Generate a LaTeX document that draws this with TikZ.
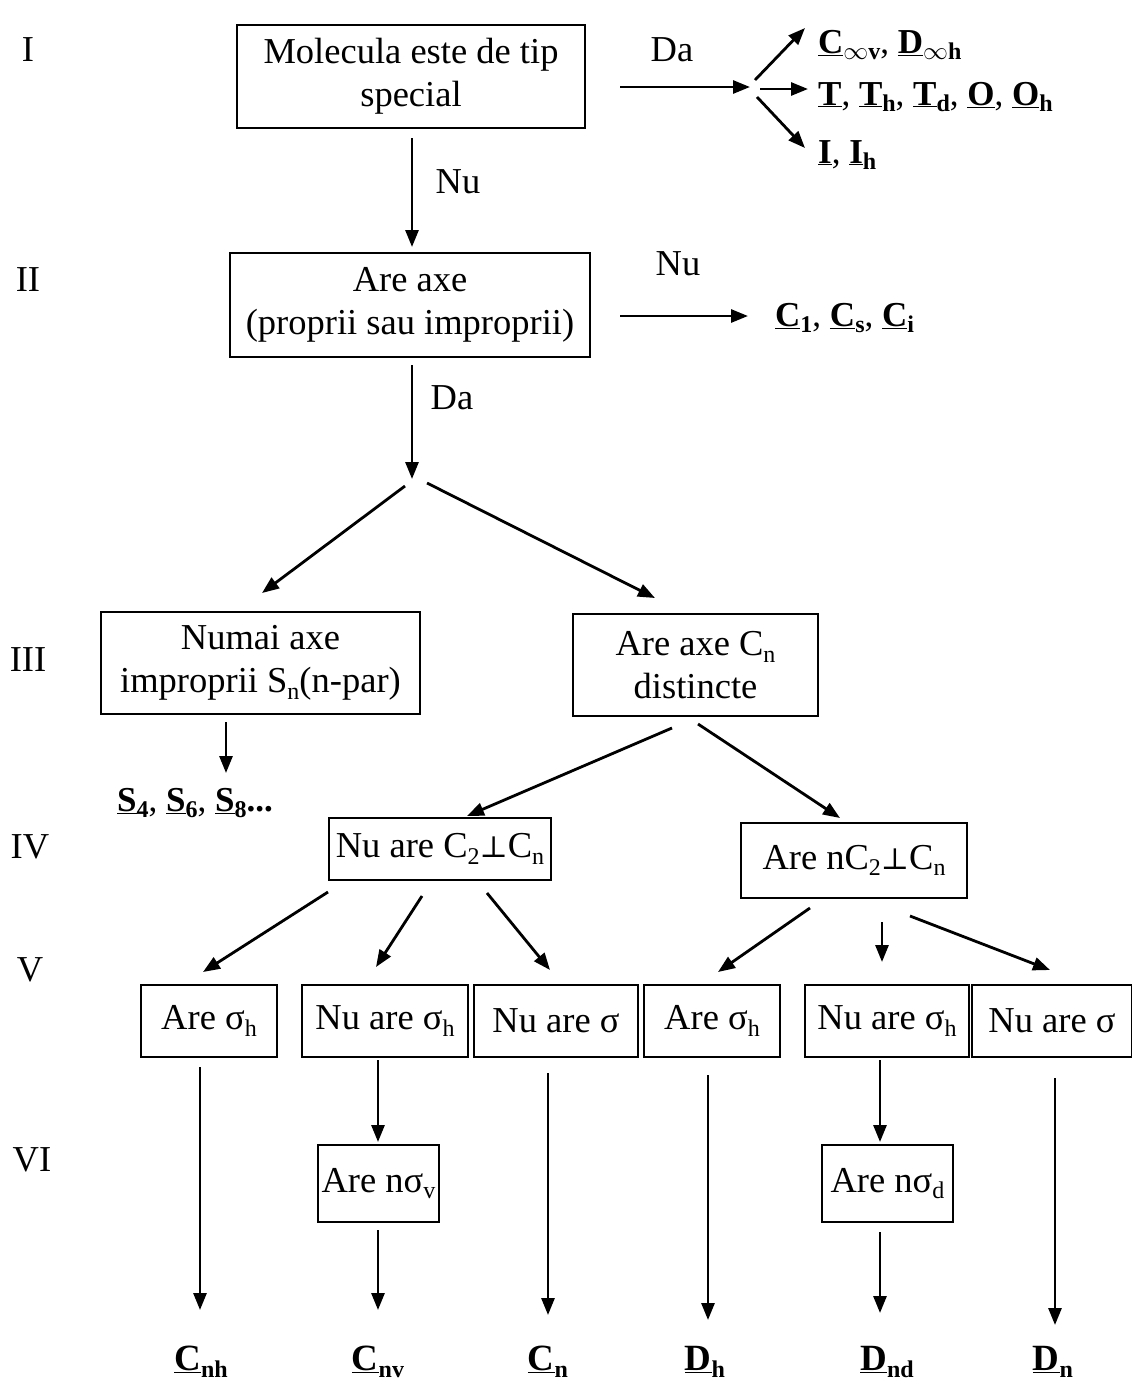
\documentclass[tikz,border=0pt]{standalone}
\usepackage{fontspec}
\setmainfont{Liberation Serif}
\newfontfamily\symfnt{DejaVu Serif}
\usetikzlibrary{arrows.meta}
\newcommand\lowsub[1]{\raisebox{-0.4ex}{\fontsize{24}{24}\selectfont #1}}
\newcommand\grp[2]{\textbf{\underline{#1}\lowsub{#2}}}
\newcommand\perpsym{{\symfnt\fontsize{30}{30}\selectfont ⊥}}
\begin{document}
\begin{tikzpicture}[x=1pt,y=-1pt,
  txt/.style={font=\fontsize{36.5}{43}\selectfont, inner sep=0pt},
  box/.style={draw, line width=2.2pt, align=center, inner sep=2pt, font=\fontsize{36.5}{43}\selectfont},
  lbl/.style={font=\fontsize{35}{40}\selectfont, inner sep=0pt, anchor=west},
  res/.style={font=\fontsize{37}{40}\selectfont, inner sep=0pt},
  arr/.style={line width=2.8pt, -{Triangle[length=17pt,width=13pt]}}]
\useasboundingbox (0,0) rectangle (1132,1382);
% roman numerals
\node[txt] (rI) at (28,50) {I};
\node[txt] (rII) at (28,280) {II};
\node[txt] (rIII) at (28,660) {III};
\node[txt] (rIV) at (30,847) {IV};
\node[txt] (rV) at (30,970) {V};
\node[txt] (rVI) at (32,1160) {VI};
% boxes
\node[box, minimum width=348pt, minimum height=103pt] (b1) at (411,76.5) {Molecula este de tip\\special};
\node[box, minimum width=360pt, minimum height=104pt] (b2) at (410,305) {Are axe\\(proprii sau improprii)};
\node[box, minimum width=319pt, minimum height=102pt] (b3l) at (260.5,663) {Numai axe\\improprii S\lowsub{n}(n-par)};
\node[box, minimum width=245pt, minimum height=102pt] (b3r) at (695.5,665) {Are axe C\lowsub{n}\\distincte};
\node[box, minimum width=222pt, minimum height=62pt] (b4l) at (440,849) {Nu are C\lowsub{2}\perpsym C\lowsub{n}};
\node[box, minimum width=226pt, minimum height=75pt] (b4r) at (854,860.5) {Are nC\lowsub{2}\perpsym C\lowsub{n}};
\node[box, minimum width=136pt, minimum height=72pt] (vA) at (209,1021) {Are σ\lowsub{h}};
\node[box, minimum width=166pt, minimum height=72pt] (vB) at (385,1021) {Nu are σ\lowsub{h}};
\node[box, minimum width=164pt, minimum height=72pt] (vC) at (556,1021) {Nu are σ};
\node[box, minimum width=136pt, minimum height=72pt] (vD) at (712,1021) {Are σ\lowsub{h}};
\node[box, minimum width=164pt, minimum height=72pt] (vE) at (887,1021) {Nu are σ\lowsub{h}};
\node[box, minimum width=160pt, minimum height=72pt] (vF) at (1052,1021) {Nu are σ};
\node[box, minimum width=121pt, minimum height=77pt] (wB) at (378.5,1183.5) {Are nσ\lowsub{v}};
\node[box, minimum width=131pt, minimum height=77pt] (wE) at (887.5,1183.5) {Are nσ\lowsub{d}};
% result labels
\node[lbl] (l1) at (818,45) {\grp{C}{$\infty$v}, \grp{D}{$\infty$h}};
\node[lbl] (l2) at (818,97) {\grp{T}{}, \grp{T}{h}, \grp{T}{d}, \grp{O}{}, \grp{O}{h}};
\node[lbl] (l3) at (818,155) {\grp{I}{}, \grp{I}{h}};
\node[lbl] (l4) at (775,318) {\grp{C}{1}, \grp{C}{s}, \grp{C}{i}};
\node[lbl] (l5) at (117,803) {\grp{S}{4}, \grp{S}{6}, \grp{S}{8}\textbf{...}};
\node[res] (e1) at (201,1362) {\grp{C}{nh}};
\node[res] (e2) at (378,1362) {\grp{C}{nv}};
\node[res] (e3) at (548,1362) {\grp{C}{n}};
\node[res] (e4) at (705,1362) {\grp{D}{h}};
\node[res] (e5) at (887,1362) {\grp{D}{nd}};
\node[res] (e6) at (1053,1362) {\grp{D}{n}};
% edge labels
\node[txt] (da1) at (672,50) {Da};
\node[txt] (nu1) at (458,182) {Nu};
\node[txt] (nu2) at (678,264) {Nu};
\node[txt] (da2) at (452,398) {Da};
% coordinates (connector end points)
\coordinate (da1s) at (620,87);
\coordinate (fan) at (750,87);
\coordinate (f1) at (755,80);
\coordinate (f2) at (760,89);
\coordinate (f3) at (757,97);
\coordinate (f1e) at (805,28);
\coordinate (f2e) at (808,89);
\coordinate (f3e) at (805,148);
\coordinate (d1s) at (412,138);
\coordinate (d1e) at (412,247);
\coordinate (nu2s) at (620,316);
\coordinate (nu2e) at (748,316);
\coordinate (d2s) at (412,365);
\coordinate (split) at (412,479);
\coordinate (sl) at (405,486);
\coordinate (sr) at (427,483);
\coordinate (pl) at (262,593);
\coordinate (pr) at (655,598);
\coordinate (s4s) at (226,722);
\coordinate (s4e) at (226,773);
\coordinate (c1s) at (672,728);
\coordinate (c2s) at (698,724);
\coordinate (c1e) at (467,816);
\coordinate (c2e) at (840,818);
\coordinate (g1s) at (328,892);
\coordinate (g1e) at (203,972);
\coordinate (g2s) at (422,896);
\coordinate (g2e) at (376,967);
\coordinate (g3s) at (487,893);
\coordinate (g3e) at (550,970);
\coordinate (h1s) at (810,908);
\coordinate (h1e) at (718,972);
\coordinate (h2s) at (882,922);
\coordinate (h2e) at (882,962);
\coordinate (h3s) at (910,916);
\coordinate (h3e) at (1050,970);
\coordinate (k1s) at (200,1067);
\coordinate (k1e) at (200,1310);
\coordinate (k2s) at (378,1060);
\coordinate (k2e) at (378,1142);
\coordinate (k2b) at (378,1230);
\coordinate (k2f) at (378,1310);
\coordinate (k3s) at (548,1073);
\coordinate (k3e) at (548,1315);
\coordinate (k4s) at (708,1075);
\coordinate (k4e) at (708,1320);
\coordinate (k5s) at (880,1060);
\coordinate (k5e) at (880,1142);
\coordinate (k5b) at (880,1232);
\coordinate (k5f) at (880,1313);
\coordinate (k6s) at (1055,1078);
\coordinate (k6e) at (1055,1325);
% arrows
\draw[arr] (da1s) -- (fan);
\draw[arr] (f1) -- (f1e);
\draw[arr] (f2) -- (f2e);
\draw[arr] (f3) -- (f3e);
\draw[arr] (d1s) -- (d1e);
\draw[arr] (nu2s) -- (nu2e);
\draw[arr] (d2s) -- (split);
\draw[arr] (sl) -- (pl);
\draw[arr] (sr) -- (pr);
\draw[arr] (s4s) -- (s4e);
\draw[arr] (c1s) -- (c1e);
\draw[arr] (c2s) -- (c2e);
\draw[arr] (g1s) -- (g1e);
\draw[arr] (g2s) -- (g2e);
\draw[arr] (g3s) -- (g3e);
\draw[arr] (h1s) -- (h1e);
\draw[arr] (h2s) -- (h2e);
\draw[arr] (h3s) -- (h3e);
\draw[arr] (k1s) -- (k1e);
\draw[arr] (k2s) -- (k2e);
\draw[arr] (k2b) -- (k2f);
\draw[arr] (k3s) -- (k3e);
\draw[arr] (k4s) -- (k4e);
\draw[arr] (k5s) -- (k5e);
\draw[arr] (k5b) -- (k5f);
\draw[arr] (k6s) -- (k6e);
\end{tikzpicture}
\end{document}
